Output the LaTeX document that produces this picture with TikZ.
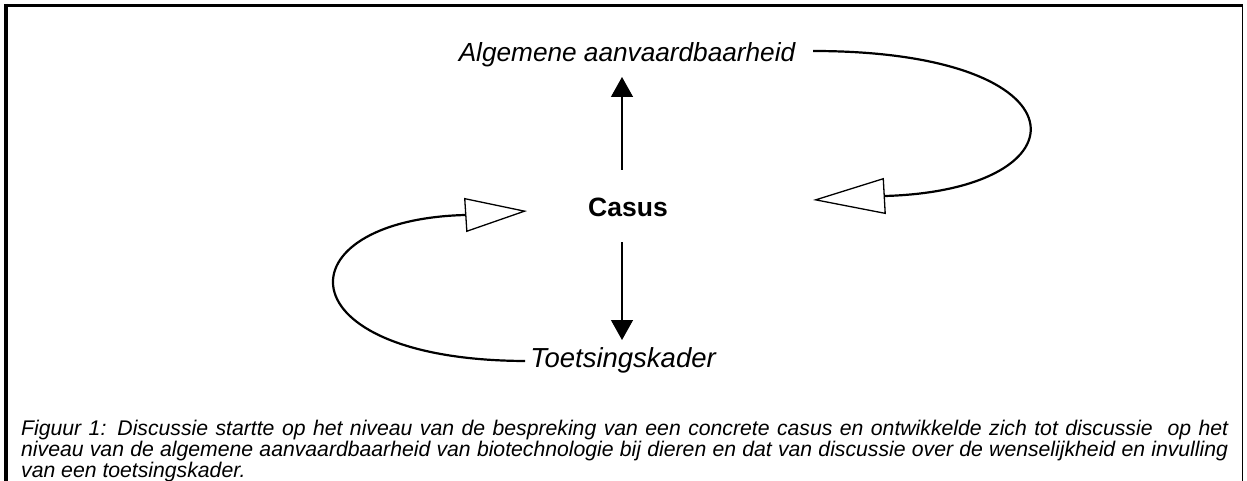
\documentclass[tikz,border=0pt]{standalone}
\usepackage{fontspec}
\setmainfont{Liberation Sans}
\usetikzlibrary{arrows.meta}
\begin{document}
\begin{tikzpicture}[x=1pt,y=-1pt,
  lbl/.style={inner sep=0pt,font=\fontsize{26}{30}\selectfont},
  solidhead/.style={-{Triangle[width=22pt,length=20pt]},line width=1.3pt},
  loop/.style={line width=2.2pt},
  openhead/.style={-{Triangle[open,width=36pt,length=72pt,line width=1.3pt]}}]
\useasboundingbox (0,0) rectangle (1247,481);
% frame
\draw[line width=3.5pt] (4,5.5) -- (1243,5.5);
\draw[line width=4pt] (6,4) -- (6,481);
\draw[line width=1.2pt] (1242.5,5) -- (1242.5,481);
% labels
\node[lbl,anchor=base,font=\fontsize{26.2}{30}\selectfont\itshape] (alg) at (627,62) {Algemene aanvaardbaarheid};
\node[lbl,anchor=base,font=\fontsize{26.5}{30}\selectfont\bfseries] (casus) at (628,216) {Casus};
\node[lbl,anchor=base,font=\fontsize{27.5}{30}\selectfont\itshape] (toets) at (623,367) {Toetsingskader};
% coordinates
\coordinate (cup) at (622,170);
\coordinate (algin) at (622,77);
\coordinate (cdown) at (622,242);
\coordinate (toetsin) at (622,340);
\coordinate (rstart) at (813,51);
\coordinate (rtip) at (813,200);
\coordinate (lstart) at (525,361);
\coordinate (ltip) at (527,211);
% arrows
\draw[solidhead] (cup) -- (algin);
\draw[solidhead] (cdown) -- (toetsin);
\draw[loop,openhead] (rstart) .. controls (1090,51) and (1090,190) .. (885,196) -- (rtip);
\draw[loop,-{Triangle[open,width=34pt,length=62pt,line width=1.3pt]}] (lstart) .. controls (280,360) and (280,220) .. (465,215) -- (ltip);
% caption
\node[anchor=north west,inner sep=0pt,text width=1207pt,align=justify,
  font=\fontsize{21.2}{18.8}\selectfont\itshape] (cap) at (21,420)
  {Figuur 1: Discussie startte op het niveau van de bespreking van een concrete casus en ontwikkelde zich tot discussie\ \ op het\linebreak niveau van de algemene aanvaardbaarheid van biotechnologie bij dieren en dat van discussie over de wenselijkheid en invulling\linebreak van een toetsingskader.};
\end{tikzpicture}
\end{document}
